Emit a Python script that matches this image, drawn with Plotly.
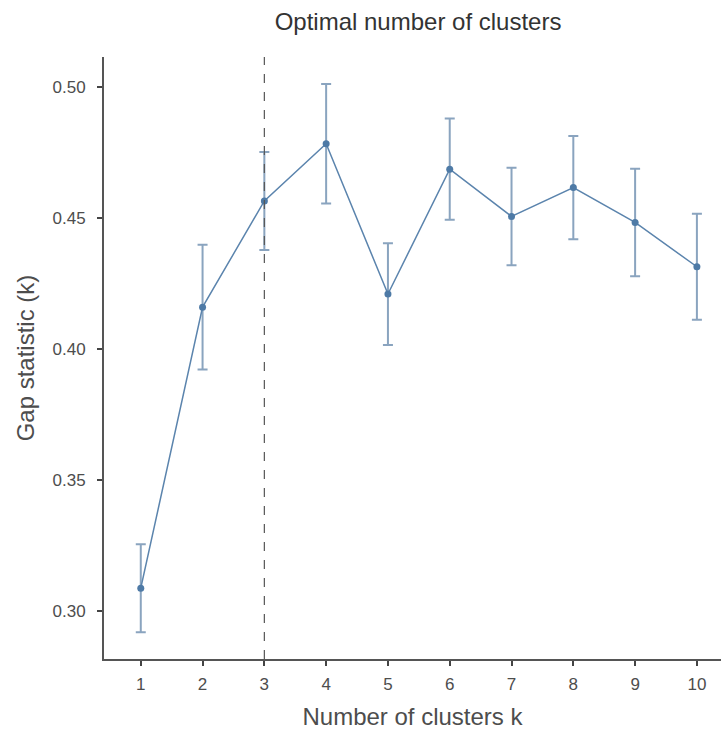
import plotly.graph_objects as go

k_values = [1, 2, 3, 4, 5, 6, 7, 8, 9, 10]
gap_values = [0.3087, 0.4159, 0.4564, 0.4782, 0.4209, 0.4685, 0.4505, 0.4615, 0.4482, 0.4313]
gap_se = [0.0168, 0.0238, 0.0187, 0.0228, 0.0194, 0.0193, 0.0186, 0.0197, 0.0205, 0.0202]
optimal_k = 3
y_ticks = [0.30, 0.35, 0.40, 0.45, 0.50]
x_ticks = k_values

FONT = "Liberation Sans, Arial, Helvetica, sans-serif"

fig = go.Figure()
fig.add_trace(go.Scatter(
    x=k_values, y=gap_values, mode="lines+markers",
    line=dict(color="#5b84ad", width=1.5),
    marker=dict(color="#4e7aa6", size=7),
    error_y=dict(type="data", array=gap_se, visible=True,
                 color="#8aa4bf", thickness=2, width=5),
    showlegend=False,
))

fig.add_shape(type="line", x0=optimal_k, x1=optimal_k, xref="x",
              y0=0, y1=1, yref="paper",
              line=dict(color="#555555", width=1.2, dash="dash"))

fig.update_layout(
    width=721, height=732,
    margin=dict(l=104, r=0, t=57, b=73),
    paper_bgcolor="white", plot_bgcolor="white",
    font=dict(family=FONT, color="#4d4d4d"),
    title=dict(text="Optimal number of clusters", x=0.509, xanchor="center",
               xref="paper", y=1 - 22 / 732, yref="container", yanchor="middle",
               font=dict(size=24, color="#333333", family=FONT)),
    xaxis=dict(range=[0.405, 10.39], tickvals=x_ticks,
               ticktext=[str(v) for v in x_ticks],
               showgrid=False, zeroline=False,
               showline=True, linecolor="#555555", linewidth=2,
               ticks="outside", ticklen=5, tickwidth=2, tickcolor="#444444",
               ticklabelstandoff=4,
               tickfont=dict(size=17, color="#4d4d4d"),
               title=dict(text="Number of clusters k", standoff=15,
                          font=dict(size=24, color="#4d4d4d"))),
    yaxis=dict(range=[0.2817, 0.5113], tickvals=y_ticks,
               tickformat=".2f",
               showgrid=False, zeroline=False,
               showline=True, linecolor="#555555", linewidth=2,
               ticks="outside", ticklen=5, tickwidth=2, tickcolor="#444444",
               ticklabelstandoff=8,
               tickfont=dict(size=17, color="#4d4d4d"),
               title=dict(text="Gap statistic (k)", standoff=11,
                          font=dict(size=24, color="#4d4d4d"))),
)

fig.write_html("out.html")
